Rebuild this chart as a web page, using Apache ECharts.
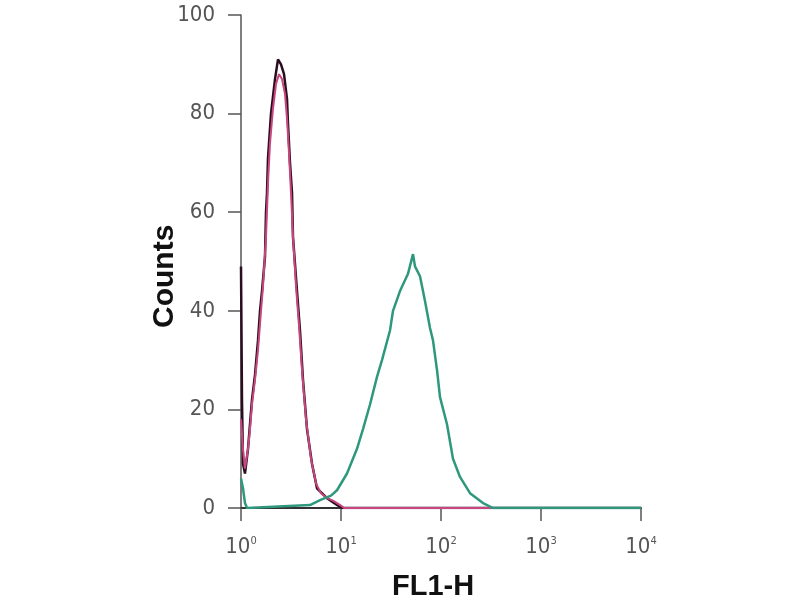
<!DOCTYPE html>
<html>
<head>
<meta charset="utf-8">
<script src="https://cdn.jsdelivr.net/npm/echarts@6/dist/echarts.min.js"></script>
<style>html,body{margin:0;padding:0;background:#fff}#c{width:800px;height:600px}</style>
</head>
<body>
<div id="c"></div>
<script>
// FL1-H intensity (x) and counts (y) for each histogram
var blackX = [1.00,1.023,1.047,1.096,1.175,1.230,1.288,1.380,1.479,1.549,1.622,1.738,1.778,1.820,1.862,1.995,2.188,2.344,2.512,2.692,2.884,2.951,3.090,3.236,3.311,3.631,3.890,4.169,4.571,5.129,5.754,7.244,9.120,10.23,10000];
var blackY = [49,22,9,7,12,17,22,27,34,40,44,51,60,64,71,80,87,91,90,88,83,78,70,64,55,44,36,26,16,9,4,2,0.6,0,0];

var magentaX = [1.00,1.047,1.096,1.175,1.230,1.288,1.380,1.479,1.585,1.660,1.778,1.862,1.950,2.089,2.239,2.399,2.570,2.754,2.884,3.020,3.162,3.311,3.548,3.802,4.074,4.467,5.012,5.623,6.310,7.244,8.318,9.120,10.0,10.72,10000];
var magentaY = [18,12,8,12,16,21,26,32,40,45,55,66,74,81,86,88,87,84,79,72,64,55,45,37,28,18,10,5,3,2,1.5,1,0.5,0,0];

var tealX = [1.00,1.047,1.096,1.148,4.898,6.166,7.943,9.120,11.48,14.45,16.60,19.50,22.91,25.70,30.90,33.11,38.90,46.77,52.48,54.95,61.66,69.18,77.62,83.18,91.20,97.72,114.8,131.8,154.9,195.0,263.0,331.1,10000];
var tealY = [6,4,1,0,0.6,1.6,2.5,3.6,7,12,16,21,26.6,30,36,40,44,47.5,51.5,49,47,42,36.5,34,28,22.5,17,10,6.3,3,1,0,0];

var yTicks = [0,20,40,60,80,100];
var xTickExponents = ['0','1','2','3','4'];
var xTitle = 'FL1-H';
var yTitle = 'Counts';

function pairs(xs, ys){ return xs.map(function(x,i){ return [x, ys[i]]; }); }

var tickFont = '"Liberation Sans Narrow", "DejaVu Sans Condensed", "Liberation Sans", sans-serif';
var titleFont = '"Liberation Sans", Arial, sans-serif';

var chart = echarts.init(document.getElementById('c'));
chart.setOption({
  animation: false,
  backgroundColor: '#fff',
  grid: {left: 241, right: 159, top: 15, bottom: 92},
  xAxis: {
    type: 'log', logBase: 10, min: 1, max: 10000, interval: 1,
    axisLine: {lineStyle: {color: '#333', width: 2}},
    axisTick: {show: true, inside: false, length: 13, lineStyle: {color: '#555', width: 1.5}},
    axisLabel: {
      margin: 28, color: '#555',
      formatter: function(v){ var e = Math.round(Math.log10(v)); return '{b|10}{s|' + (xTickExponents[e] || '') + '}'; },
      rich: {
        b: {fontFamily: tickFont, fontSize: 22, color: '#555', lineHeight: 22, verticalAlign: 'bottom'},
        s: {fontFamily: tickFont, fontSize: 11, color: '#555', lineHeight: 22, verticalAlign: 'top'}
      }
    },
    splitLine: {show: false}, minorTick: {show: false}
  },
  yAxis: {
    type: 'value', min: yTicks[0], max: yTicks[yTicks.length-1], interval: 20,
    axisLine: {show: true, lineStyle: {color: '#555', width: 1.5}},
    axisTick: {show: true, length: 13, lineStyle: {color: '#555', width: 1.5}},
    axisLabel: {margin: 26, fontFamily: tickFont, fontSize: 22, color: '#555'},
    splitLine: {show: false}
  },
  graphic: [
    {type: 'text', left: 392, top: 572, silent: true,
     style: {text: xTitle, font: 'bold 29px ' + titleFont, fill: '#111'}},
    {type: 'text', x: 150, y: 328, rotation: Math.PI / 2, silent: true,
     style: {text: yTitle, font: 'bold 30px ' + titleFont, fill: '#111', textAlign: 'left', textVerticalAlign: 'top'}}
  ],
  series: [
    {type: 'line', data: pairs(blackX, blackY), showSymbol: false, symbol: 'none',
     lineStyle: {color: '#2a0d1e', width: 2.5}, z: 2},
    {type: 'line', data: pairs(magentaX, magentaY), showSymbol: false, symbol: 'none',
     lineStyle: {color: '#c8467f', width: 2}, z: 3},
    {type: 'line', data: pairs(tealX, tealY), showSymbol: false, symbol: 'none',
     lineStyle: {color: '#2e987d', width: 2.5}, z: 4}
  ]
});
</script>
</body>
</html>
